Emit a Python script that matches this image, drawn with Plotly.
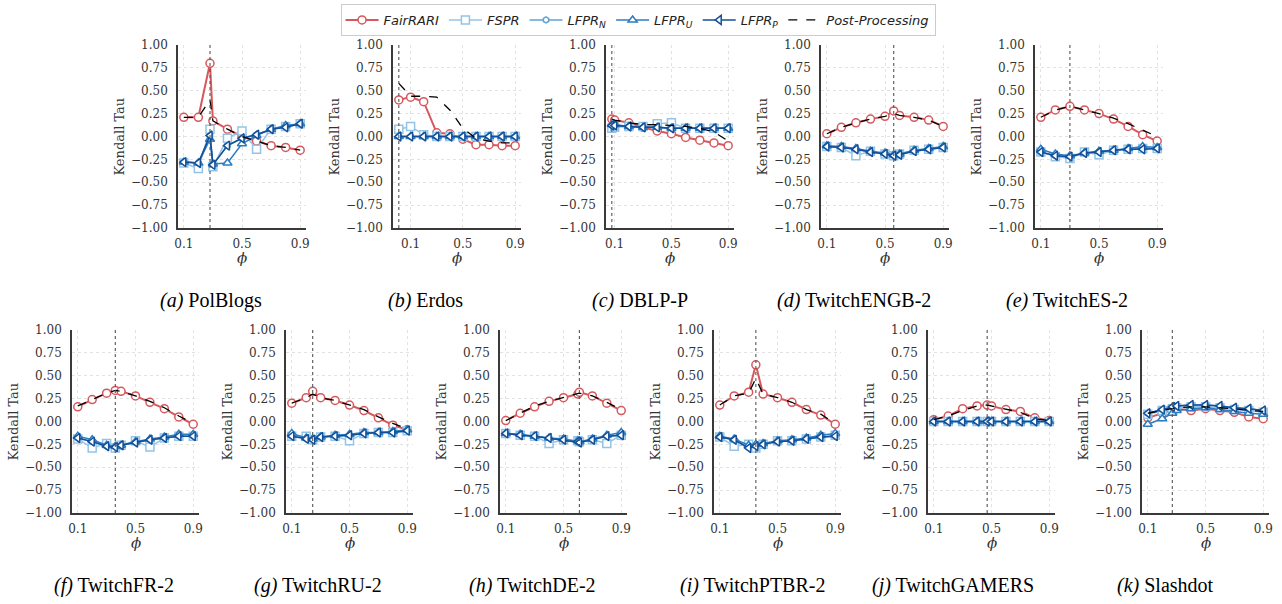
import plotly.graph_objects as go

W, H = 1282, 604

# ---------------- data ----------------
polblogs_phi = [0.1, 0.2, 0.28, 0.3, 0.4, 0.5, 0.6, 0.7, 0.8, 0.9]
polblogs_fairrari = [0.21, 0.21, 0.80, 0.17, 0.08, 0.00, -0.05, -0.10, -0.12, -0.15]
polblogs_fspr = [-0.29, -0.35, 0.08, -0.33, -0.02, 0.06, -0.14, 0.08, 0.11, 0.14]
polblogs_lfpr_n = [-0.28, -0.29, 0.01, -0.31, -0.10, -0.02, 0.02, 0.08, 0.10, 0.14]
polblogs_lfpr_u = [-0.28, -0.29, -0.03, -0.30, -0.29, -0.08, 0.01, 0.08, 0.12, 0.14]
polblogs_lfpr_p = [-0.28, -0.29, 0.01, -0.31, -0.10, -0.02, 0.02, 0.08, 0.10, 0.14]
polblogs_post = [0.21, 0.21, 0.40, 0.17, 0.08, 0.00, -0.05, -0.10, -0.12, -0.15]
polblogs_opt = 0.28

erdos_phi = [0.01, 0.1, 0.2, 0.3, 0.4, 0.5, 0.6, 0.7, 0.8, 0.9]
erdos_fairrari = [0.40, 0.43, 0.38, 0.04, 0.03, -0.03, -0.09, -0.09, -0.10, -0.10]
erdos_fspr = [0.08, 0.11, 0.02, 0.0, 0.0, 0.0, 0.0, 0.0, 0.0, 0.0]
erdos_lfpr_n = [0.0, 0.0, 0.0, 0.0, 0.0, 0.0, 0.0, 0.0, 0.0, 0.0]
erdos_lfpr_u = [0.0, 0.0, 0.0, 0.0, 0.0, 0.0, 0.0, 0.0, 0.0, 0.0]
erdos_lfpr_p = [0.0, 0.0, 0.0, 0.0, 0.0, 0.0, 0.0, 0.0, 0.0, 0.0]
erdos_post = [0.58, 0.44, 0.44, 0.43, 0.29, 0.09, -0.02, -0.05, -0.07, -0.07]
erdos_opt = 0.01

dblp_phi = [0.08, 0.1, 0.2, 0.3, 0.4, 0.5, 0.6, 0.7, 0.8, 0.9]
dblp_fairrari = [0.19, 0.18, 0.15, 0.10, 0.06, 0.03, -0.01, -0.04, -0.07, -0.10]
dblp_fspr = [0.09, 0.10, 0.11, 0.11, 0.14, 0.15, 0.09, 0.09, 0.09, 0.09]
dblp_lfpr_n = [0.12, 0.12, 0.11, 0.10, 0.10, 0.09, 0.09, 0.09, 0.09, 0.09]
dblp_lfpr_u = [0.13, 0.13, 0.11, 0.10, 0.10, 0.09, 0.09, 0.09, 0.09, 0.09]
dblp_lfpr_p = [0.12, 0.12, 0.11, 0.10, 0.10, 0.09, 0.09, 0.09, 0.09, 0.09]
dblp_post = [0.19, 0.18, 0.15, 0.13, 0.13, 0.12, 0.11, 0.09, 0.05, -0.05]
dblp_opt = 0.08

engb_phi = [0.1, 0.2, 0.3, 0.4, 0.5, 0.56, 0.6, 0.7, 0.8, 0.9]
engb_fairrari = [0.03, 0.10, 0.15, 0.19, 0.22, 0.28, 0.23, 0.21, 0.18, 0.11]
engb_fspr = [-0.11, -0.12, -0.21, -0.16, -0.19, -0.21, -0.19, -0.15, -0.14, -0.12]
engb_lfpr_n = [-0.11, -0.12, -0.14, -0.17, -0.19, -0.21, -0.20, -0.16, -0.14, -0.12]
engb_lfpr_u = [-0.10, -0.11, -0.13, -0.16, -0.18, -0.20, -0.19, -0.15, -0.13, -0.11]
engb_lfpr_p = [-0.11, -0.12, -0.14, -0.17, -0.19, -0.21, -0.20, -0.16, -0.14, -0.12]
engb_post = [0.03, 0.10, 0.15, 0.19, 0.22, 0.25, 0.23, 0.21, 0.18, 0.11]
engb_opt = 0.56

es_phi = [0.1, 0.2, 0.3, 0.4, 0.5, 0.6, 0.7, 0.8, 0.9]
es_fairrari = [0.21, 0.29, 0.33, 0.29, 0.25, 0.19, 0.11, 0.02, -0.05]
es_fspr = [-0.17, -0.22, -0.24, -0.17, -0.20, -0.15, -0.14, -0.13, -0.13]
es_lfpr_n = [-0.17, -0.21, -0.22, -0.18, -0.17, -0.15, -0.14, -0.13, -0.13]
es_lfpr_u = [-0.14, -0.19, -0.21, -0.18, -0.16, -0.15, -0.13, -0.11, -0.12]
es_lfpr_p = [-0.17, -0.21, -0.22, -0.18, -0.17, -0.15, -0.14, -0.14, -0.13]
es_post = [0.21, 0.29, 0.33, 0.29, 0.25, 0.20, 0.14, 0.07, 0.00]
es_opt = 0.3

fr_phi = [0.1, 0.2, 0.3, 0.36, 0.4, 0.5, 0.6, 0.7, 0.8, 0.9]
fr_fairrari = [0.16, 0.24, 0.31, 0.34, 0.33, 0.28, 0.21, 0.14, 0.05, -0.03]
fr_fspr = [-0.19, -0.29, -0.24, -0.29, -0.26, -0.21, -0.28, -0.18, -0.16, -0.16]
fr_lfpr_n = [-0.18, -0.22, -0.27, -0.28, -0.26, -0.23, -0.20, -0.18, -0.16, -0.16]
fr_lfpr_u = [-0.16, -0.20, -0.26, -0.27, -0.26, -0.22, -0.19, -0.17, -0.14, -0.14]
fr_lfpr_p = [-0.18, -0.22, -0.27, -0.28, -0.26, -0.23, -0.20, -0.18, -0.16, -0.16]
fr_post = [0.17, 0.24, 0.31, 0.34, 0.33, 0.28, 0.22, 0.15, 0.06, -0.02]
fr_opt = 0.36

ru_phi = [0.1, 0.2, 0.245, 0.3, 0.4, 0.5, 0.6, 0.7, 0.8, 0.9]
ru_fairrari = [0.20, 0.26, 0.33, 0.26, 0.23, 0.18, 0.12, 0.04, -0.04, -0.09]
ru_fspr = [-0.16, -0.16, -0.20, -0.17, -0.16, -0.21, -0.13, -0.12, -0.12, -0.10]
ru_lfpr_n = [-0.16, -0.19, -0.20, -0.17, -0.16, -0.15, -0.13, -0.12, -0.12, -0.10]
ru_lfpr_u = [-0.13, -0.18, -0.19, -0.17, -0.15, -0.14, -0.12, -0.12, -0.11, -0.09]
ru_lfpr_p = [-0.16, -0.19, -0.20, -0.17, -0.16, -0.15, -0.13, -0.12, -0.12, -0.10]
ru_post = [0.20, 0.26, 0.30, 0.26, 0.23, 0.18, 0.13, 0.05, -0.02, -0.08]
ru_opt = 0.245

de_phi = [0.1, 0.2, 0.3, 0.4, 0.5, 0.6, 0.61, 0.7, 0.8, 0.9]
de_fairrari = [0.01, 0.09, 0.16, 0.22, 0.26, 0.30, 0.32, 0.28, 0.20, 0.12]
de_fspr = [-0.13, -0.15, -0.16, -0.24, -0.20, -0.21, -0.22, -0.20, -0.24, -0.15]
de_lfpr_n = [-0.13, -0.15, -0.16, -0.18, -0.20, -0.22, -0.23, -0.20, -0.16, -0.15]
de_lfpr_u = [-0.13, -0.14, -0.16, -0.18, -0.19, -0.21, -0.22, -0.19, -0.15, -0.12]
de_lfpr_p = [-0.13, -0.15, -0.16, -0.18, -0.20, -0.22, -0.23, -0.20, -0.16, -0.15]
de_post = [0.01, 0.09, 0.17, 0.22, 0.26, 0.30, 0.31, 0.28, 0.21, 0.13]
de_opt = 0.61

ptbr_phi = [0.1, 0.2, 0.3, 0.35, 0.4, 0.5, 0.6, 0.7, 0.8, 0.9]
ptbr_fairrari = [0.18, 0.28, 0.32, 0.62, 0.30, 0.26, 0.21, 0.13, 0.07, -0.03]
ptbr_fspr = [-0.17, -0.27, -0.25, -0.29, -0.25, -0.21, -0.21, -0.19, -0.17, -0.15]
ptbr_lfpr_n = [-0.17, -0.20, -0.28, -0.26, -0.25, -0.22, -0.21, -0.19, -0.17, -0.16]
ptbr_lfpr_u = [-0.16, -0.19, -0.26, -0.25, -0.24, -0.21, -0.20, -0.18, -0.15, -0.13]
ptbr_lfpr_p = [-0.17, -0.20, -0.29, -0.27, -0.25, -0.22, -0.21, -0.19, -0.17, -0.16]
ptbr_post = [0.18, 0.28, 0.31, 0.47, 0.30, 0.26, 0.21, 0.13, 0.08, -0.02]
ptbr_opt = 0.35

gamers_phi = [0.1, 0.2, 0.3, 0.4, 0.47, 0.5, 0.6, 0.7, 0.8, 0.9]
gamers_fairrari = [0.02, 0.06, 0.14, 0.17, 0.18, 0.17, 0.13, 0.11, 0.04, 0.01]
gamers_fspr = [0.0, 0.0, 0.0, 0.0, 0.0, 0.0, 0.0, 0.0, 0.0, 0.0]
gamers_lfpr_n = [0.0, 0.0, 0.0, 0.0, 0.0, 0.0, 0.0, 0.0, 0.0, 0.0]
gamers_lfpr_u = [0.0, 0.0, 0.0, 0.0, 0.0, 0.0, 0.0, 0.0, 0.0, 0.0]
gamers_lfpr_p = [0.0, 0.0, 0.0, 0.0, 0.0, 0.0, 0.0, 0.0, 0.0, 0.0]
gamers_post = [0.02, 0.06, 0.12, 0.17, 0.18, 0.17, 0.14, 0.10, 0.03, 0.01]
gamers_opt = 0.47

slashdot_phi = [0.1, 0.2, 0.27, 0.3, 0.4, 0.5, 0.6, 0.7, 0.8, 0.9]
slashdot_fairrari = [0.04, 0.09, 0.12, 0.14, 0.12, 0.14, 0.12, 0.10, 0.05, 0.03]
slashdot_fspr = [0.08, 0.12, 0.14, 0.15, 0.16, 0.16, 0.15, 0.13, 0.12, 0.10]
slashdot_lfpr_n = [0.09, 0.13, 0.16, 0.17, 0.18, 0.18, 0.17, 0.15, 0.14, 0.12]
slashdot_lfpr_u = [-0.03, 0.03, 0.09, 0.12, 0.14, 0.15, 0.13, 0.11, 0.09, 0.08]
slashdot_lfpr_p = [0.09, 0.13, 0.16, 0.17, 0.18, 0.18, 0.17, 0.15, 0.14, 0.12]
slashdot_post = [0.09, 0.12, 0.14, 0.15, 0.16, 0.16, 0.15, 0.14, 0.12, 0.11]
slashdot_opt = 0.27

captions = ["PolBlogs", "Erdos", "DBLP-P", "TwitchENGB-2", "TwitchES-2",
            "TwitchFR-2", "TwitchRU-2", "TwitchDE-2", "TwitchPTBR-2",
            "TwitchGAMERS", "Slashdot"]
letters = ["a", "b", "c", "d", "e", "f", "g", "h", "i", "j", "k"]

y_ticks = [-1.0, -0.75, -0.5, -0.25, 0.0, 0.25, 0.5, 0.75, 1.0]
y_ticktext = ["\u22121.00", "\u22120.75", "\u22120.50", "\u22120.25", "0.00",
              "0.25", "0.50", "0.75", "1.00"]
x_ticks = [0.1, 0.5, 0.9]
x_ticktext = ["0.1", "0.5", "0.9"]

panels = [
    (polblogs_phi, polblogs_fairrari, polblogs_fspr, polblogs_lfpr_n, polblogs_lfpr_u, polblogs_lfpr_p, polblogs_post, polblogs_opt),
    (erdos_phi, erdos_fairrari, erdos_fspr, erdos_lfpr_n, erdos_lfpr_u, erdos_lfpr_p, erdos_post, erdos_opt),
    (dblp_phi, dblp_fairrari, dblp_fspr, dblp_lfpr_n, dblp_lfpr_u, dblp_lfpr_p, dblp_post, dblp_opt),
    (engb_phi, engb_fairrari, engb_fspr, engb_lfpr_n, engb_lfpr_u, engb_lfpr_p, engb_post, engb_opt),
    (es_phi, es_fairrari, es_fspr, es_lfpr_n, es_lfpr_u, es_lfpr_p, es_post, es_opt),
    (fr_phi, fr_fairrari, fr_fspr, fr_lfpr_n, fr_lfpr_u, fr_lfpr_p, fr_post, fr_opt),
    (ru_phi, ru_fairrari, ru_fspr, ru_lfpr_n, ru_lfpr_u, ru_lfpr_p, ru_post, ru_opt),
    (de_phi, de_fairrari, de_fspr, de_lfpr_n, de_lfpr_u, de_lfpr_p, de_post, de_opt),
    (ptbr_phi, ptbr_fairrari, ptbr_fspr, ptbr_lfpr_n, ptbr_lfpr_u, ptbr_lfpr_p, ptbr_post, ptbr_opt),
    (gamers_phi, gamers_fairrari, gamers_fspr, gamers_lfpr_n, gamers_lfpr_u, gamers_lfpr_p, gamers_post, gamers_opt),
    (slashdot_phi, slashdot_fairrari, slashdot_fspr, slashdot_lfpr_n, slashdot_lfpr_u, slashdot_lfpr_p, slashdot_post, slashdot_opt),
]

# ---------------- styles ----------------
RED = "#d6585d"
C_FSPR = "#93c4e6"
C_N = "#5ea3d6"
C_U = "#2b7cc0"
C_P = "#134f98"

series_style = [
    ("<i>FairRARI</i>", RED, "circle", 8, 2.0),
    ("<i>FSPR</i>", C_FSPR, "square", 8, 1.5),
    ("<i>LFPR<sub>N</sub></i>", C_N, "hexagon", 6, 1.5),
    ("<i>LFPR<sub>U</sub></i>", C_U, "triangle-up", 8, 1.5),
    ("<i>LFPR<sub>P</sub></i>", C_P, "triangle-left", 8, 1.5),
]

# panel geometry in pixels (left edge, top, width, height)
top_lefts = [178, 393, 606, 821, 1035]
bot_lefts = [72, 286, 500, 714, 928, 1142]
geom = [(l, 45, 128, 183) for l in top_lefts] + [(l, 330, 127, 183) for l in bot_lefts]
# caption centres (px)
caption_cx = [211, 425, 640, 854, 1067, 114, 318, 532, 752, 953, 1165]

SERIF = "DejaVu Serif"
TEXT = "#333333"

fig = go.Figure()
layout = dict(
    width=W, height=H,
    margin=dict(l=0, r=0, t=0, b=0, autoexpand=False),
    paper_bgcolor="white", plot_bgcolor="white",
    showlegend=True,
    legend=dict(
        orientation="h", x=0.4977, xanchor="center", y=1 - 4 / H, yanchor="top",
        bordercolor="#cccccc", borderwidth=1, bgcolor="white",
        font=dict(family="DejaVu Sans", size=13, color="#222222"),
        itemwidth=33, tracegroupgap=0,
    ),
)
annotations = []
shapes = []

for i, (phi, fair, fspr, ln, lu, lp, post, opt) in enumerate(panels):
    k = i + 1
    xn = "x" if k == 1 else f"x{k}"
    yn = "y" if k == 1 else f"y{k}"
    left, top, w, h = geom[i]
    x0, x1 = left / W, (left + w) / W
    y0, y1 = 1 - (top + h) / H, 1 - top / H

    span = max(phi) - min(phi)
    xr = [min(phi) - 0.05 * span, max(phi) + 0.05 * span]

    layout[f"xaxis{k if k > 1 else ''}"] = dict(
        domain=[x0, x1], anchor=yn, range=xr, automargin=False,
        tickvals=x_ticks, ticktext=x_ticktext, ticks="", ticklabelstandoff=4,
        tickfont=dict(family=SERIF, size=12, color=TEXT),
        showgrid=True, gridcolor="#e2e2e2", griddash="dot", gridwidth=1,
        showline=True, linecolor="#3a3a3a", linewidth=1.6, zeroline=False,
    )
    layout[f"yaxis{k if k > 1 else ''}"] = dict(
        domain=[y0, y1], anchor=xn, range=[-1, 1], automargin=False,
        tickvals=y_ticks, ticktext=y_ticktext, ticks="", ticklabelstandoff=6,
        tickfont=dict(family=SERIF, size=12, color=TEXT),
        showgrid=True, gridcolor="#e2e2e2", griddash="dot", gridwidth=1,
        showline=True, linecolor="#3a3a3a", linewidth=1.6, zeroline=False,
    )

    for (name, color, sym, size, lw), vals in zip(series_style, [fair, fspr, ln, lu, lp]):
        fig.add_trace(go.Scatter(
            x=phi, y=vals, mode="lines+markers", name=name,
            xaxis=xn, yaxis=yn, legendgroup=name, showlegend=(k == 1),
            line=dict(color=color, width=lw),
            marker=dict(symbol=sym, size=size, color="white",
                        line=dict(color=color, width=1.5)),
        ))
    fig.add_trace(go.Scatter(
        x=phi, y=post, mode="lines", name="<i>Post-Processing</i>",
        xaxis=xn, yaxis=yn, legendgroup="pp", showlegend=(k == 1),
        line=dict(color="black", width=1.3, dash="dash"),
    ))

    shapes.append(dict(type="line", xref=xn, yref=f"{yn} domain",
                       x0=opt, x1=opt, y0=0, y1=1,
                       line=dict(color="#555555", width=1.1, dash="dot"), layer="above"))

    cx = (x0 + x1) / 2
    annotations.append(dict(text="<i>\u03d5</i>", x=cx, y=1 - (top + h + 30) / H,
                            xref="paper", yref="paper", showarrow=False,
                            xanchor="center", yanchor="middle",
                            font=dict(family=SERIF, size=15, color=TEXT)))
    annotations.append(dict(text="Kendall Tau", x=(left - 59) / W, y=(y0 + y1) / 2,
                            xref="paper", yref="paper", showarrow=False, textangle=-90,
                            xanchor="center", yanchor="middle",
                            font=dict(family=SERIF, size=13, color=TEXT)))
    cap_y = 300 if i < 5 else 585
    annotations.append(dict(text=f"<i>({letters[i]})</i> {captions[i]}",
                            x=caption_cx[i] / W, y=1 - cap_y / H,
                            xref="paper", yref="paper", showarrow=False,
                            xanchor="center", yanchor="middle",
                            font=dict(family="Liberation Serif", size=20, color="black")))

layout["annotations"] = annotations
layout["shapes"] = shapes
fig.update_layout(**layout)
fig.write_html("out.html")
